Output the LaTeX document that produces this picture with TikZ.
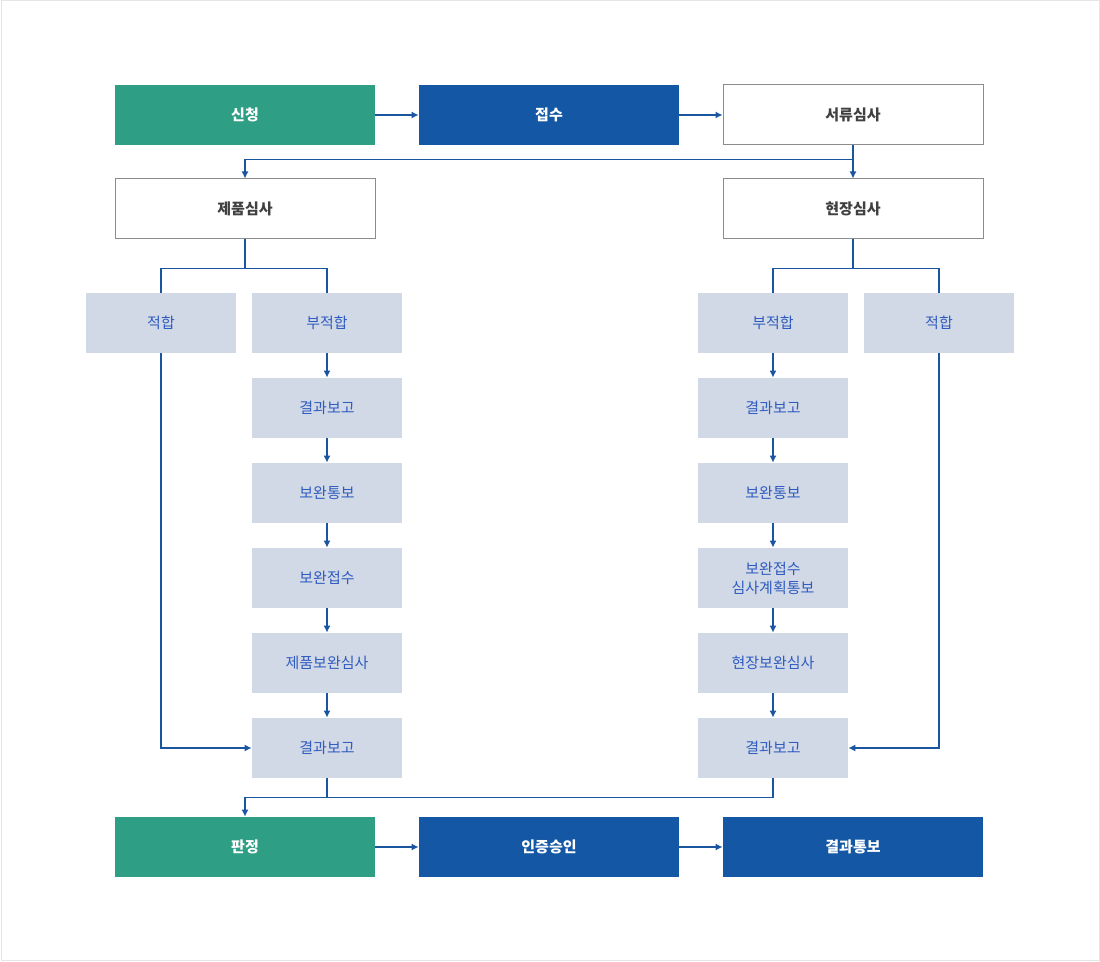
\documentclass[tikz,border=0pt]{standalone}
\usepackage{fontspec}
\setmainfont{Noto Sans CJK KR}
\usetikzlibrary{arrows.meta}

\definecolor{stepgreen}{HTML}{2E9E84}
\definecolor{stepblue}{HTML}{1457A5}
\definecolor{substep}{HTML}{D1D9E6}
\definecolor{subtext}{HTML}{2F5BC0}
\definecolor{linkblue}{HTML}{1A56A0}

\tikzset{
  bigbox/.style={minimum width=130pt, minimum height=30pt, inner sep=0pt, font=\fontsize{7.5}{9}\selectfont\bfseries},
  greenbox/.style={bigbox, fill=stepgreen, text=white},
  bluebox/.style={bigbox, fill=stepblue, text=white},
  whitebox/.style={bigbox, draw=gray!90, line width=0.5pt, fill=white, text=black!75},
  smallbox/.style={minimum width=75pt, minimum height=30pt, inner sep=0pt, fill=substep, text=subtext, align=center, font=\fontsize{7.5}{9.5}\selectfont},
  link/.style={draw=linkblue, line width=0.6pt},
  arr/.style={link, -{Latex[length=3.5pt,width=3.5pt]}}
}

\begin{document}
\begin{tikzpicture}[x=0.5pt,y=-0.5pt]

\useasboundingbox (0,0) rectangle (1100,962);
\draw[gray!20, line width=0.5pt] (1,1) rectangle (1099,961);

% top row
\node[greenbox] (sincheong) at (245,115) {신청};
\node[bluebox] (jeopsu) at (549,115) {접수};
\node[whitebox] (seoryu) at (853,115) {서류심사};

\node[whitebox] (jepum) at (245,209) {제품심사};
\node[whitebox] (hyeonjang) at (853,209) {현장심사};

% left column
\node[smallbox] (ljeok) at (161,323) {적합};
\node[smallbox] (lbu) at (327,323) {부적합};
\node[smallbox] (lres1) at (327,408) {결과보고};
\node[smallbox] (lnoti) at (327,493) {보완통보};
\node[smallbox] (lrecv) at (327,578) {보완접수};
\node[smallbox] (lrev) at (327,663) {제품보완심사};
\node[smallbox] (lres2) at (327,748) {결과보고};

% right column
\node[smallbox] (rbu) at (773,323) {부적합};
\node[smallbox] (rjeok) at (939,323) {적합};
\node[smallbox] (rres1) at (773,408) {결과보고};
\node[smallbox] (rnoti) at (773,493) {보완통보};
\node[smallbox] (rrecv) at (773,578) {보완접수\\심사계획통보};
\node[smallbox] (rrev) at (773,663) {현장보완심사};
\node[smallbox] (rres2) at (773,748) {결과보고};

% bottom row
\node[greenbox] (panjeong) at (245,847) {판정};
\node[bluebox] (seungin) at (549,847) {인증승인};
\node[bluebox] (tongbo) at (853,847) {결과통보};

\draw[arr] (sincheong) -- (jeopsu);
\draw[arr] (jeopsu) -- (seoryu);
\draw[arr] (seoryu.south) -- ++(0,14) -| (jepum.north);
\draw[arr] (seoryu.south) -- (hyeonjang.north);

\draw[link] (jepum.south) -- ++(0,29) -| (ljeok.north);
\draw[link] (jepum.south) -- ++(0,29) -| (lbu.north);
\draw[link] (hyeonjang.south) -- ++(0,29) -| (rbu.north);
\draw[link] (hyeonjang.south) -- ++(0,29) -| (rjeok.north);

\draw[arr] (lbu) -- (lres1);
\draw[arr] (lres1) -- (lnoti);
\draw[arr] (lnoti) -- (lrecv);
\draw[arr] (lrecv) -- (lrev);
\draw[arr] (lrev) -- (lres2);
\draw[arr] (ljeok.south) |- (lres2.west);

\draw[arr] (rbu) -- (rres1);
\draw[arr] (rres1) -- (rnoti);
\draw[arr] (rnoti) -- (rrecv);
\draw[arr] (rrecv) -- (rrev);
\draw[arr] (rrev) -- (rres2);
\draw[arr] (rjeok.south) |- (rres2.east);

\draw[link] (rres2.south) -- ++(0,19) -| (lres2.south);
\draw[arr] (lres2.south) -- ++(0,19) -| (panjeong.north);

\draw[arr] (panjeong) -- (seungin);
\draw[arr] (seungin) -- (tongbo);

\end{tikzpicture}
\end{document}
